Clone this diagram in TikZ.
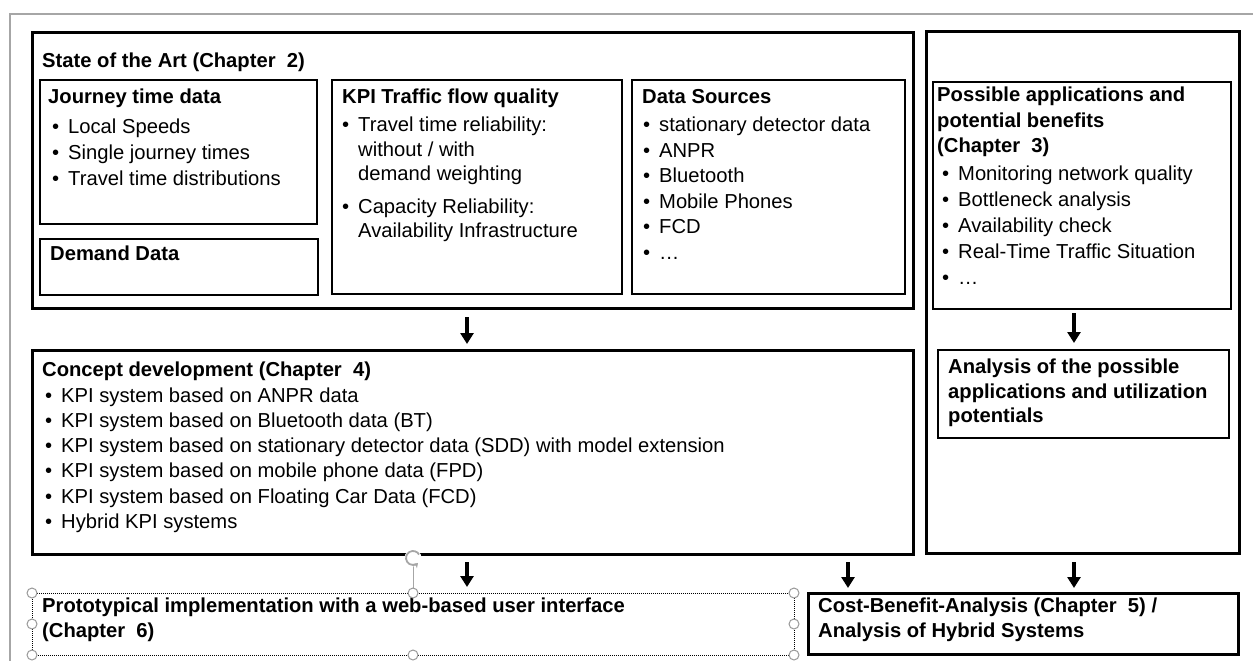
\documentclass[tikz,border=0pt]{standalone}
\usepackage{fontspec}
\setmainfont{Liberation Sans}
\usetikzlibrary{arrows.meta}
\newcommand\bu{\makebox[16pt][l]{\textbullet}}
\begin{document}
\begin{tikzpicture}[x=1pt,y=-1pt,
  thickbox/.style={draw, line width=3pt, anchor=north west, inner sep=0, outer sep=0},
  thinbox/.style={draw, line width=1.5pt, anchor=north west, inner sep=0, outer sep=0},
  dotbox/.style={draw, line width=1pt, densely dotted, anchor=north west, inner sep=0, outer sep=0},
  txt/.style={anchor=base west, inner sep=0, font=\fontsize{20.2}{24}\selectfont},
  hd/.style={txt, font=\fontsize{20.2}{24}\selectfont\bfseries},
  arr/.style={line width=3.2pt, -{Triangle[width=13pt,length=11pt]}},
  handle/.style={circle, draw=gray!80, fill=white, line width=1pt, minimum size=10pt, inner sep=0},
]
\useasboundingbox (0,0) rectangle (1253,661);
% page frame
\draw[gray!70, line width=1.2pt] (10,661) -- (10,14) -- (1253,14);

% main boxes
\node[thickbox, minimum width=881pt, minimum height=275pt] (soa) at (32,33) {};
\node[thinbox, minimum width=277pt, minimum height=144pt] (journey) at (40,80) {};
\node[thinbox, minimum width=278pt, minimum height=56pt] (demand) at (40,239) {};
\node[thinbox, minimum width=290pt, minimum height=214pt] (kpi) at (332,80) {};
\node[thinbox, minimum width=273pt, minimum height=214pt] (sources) at (632,80) {};
\node[thickbox, minimum width=313pt, minimum height=521pt] (rcol) at (926,32) {};
\node[thinbox, minimum width=298pt, minimum height=227pt] (apps) at (933,82) {};
\node[thinbox, minimum width=291pt, minimum height=88pt] (analysis) at (938,350) {};
\node[thickbox, minimum width=881pt, minimum height=204pt] (concept) at (32,350) {};
\node[dotbox, minimum width=762pt, minimum height=62pt] (proto) at (32,593) {};
\node[thickbox, minimum width=430pt, minimum height=61pt] (cba) at (808,593) {};

% State of the art
\node[hd] (soaT) at (42,68) {State of the Art (Chapter~ 2)};
\node[hd] (jT) at (48,103) {Journey time data};
\node[txt] (j1) at (52,133) {\bu Local Speeds};
\node[txt] (j2) at (52,159) {\bu Single journey times};
\node[txt] (j3) at (52,185) {\bu Travel time distributions};
\node[hd] (dT) at (50,260) {Demand Data};
\node[hd] (kT) at (342,103) {KPI Traffic flow quality};
\node[txt] (k1) at (342,131) {\bu Travel time reliability:};
\node[txt] (k2) at (358,156) {without / with};
\node[txt] (k3) at (358,180) {demand weighting};
\node[txt] (k4) at (342,213) {\bu Capacity Reliability:};
\node[txt] (k5) at (358,237) {Availability Infrastructure};
\node[hd] (sT) at (642,103) {Data Sources};
\node[txt] (s1) at (643,131) {\bu stationary detector data};
\node[txt] (s2) at (643,157) {\bu ANPR};
\node[txt] (s3) at (643,182) {\bu Bluetooth};
\node[txt] (s4) at (643,208) {\bu Mobile Phones};
\node[txt] (s5) at (643,233) {\bu FCD};
\node[txt] (s6) at (643,259) {\bu \dots};

% applications column
\node[hd] (aT1) at (937,102) {Possible applications and};
\node[hd] (aT2) at (937,127) {potential benefits};
\node[hd] (aT3) at (937,152) {(Chapter~ 3)};
\node[txt] (a1) at (942,180) {\bu Monitoring network quality};
\node[txt] (a2) at (942,206) {\bu Bottleneck analysis};
\node[txt] (a3) at (942,232) {\bu Availability check};
\node[txt] (a4) at (942,258) {\bu Real-Time Traffic Situation};
\node[txt] (a5) at (942,284) {\bu \dots};
\node[hd] (nT1) at (948,373) {Analysis of the possible};
\node[hd] (nT2) at (948,398) {applications and utilization};
\node[hd] (nT3) at (948,422) {potentials};

% concept development
\node[hd] (cT) at (42,376) {Concept development (Chapter~ 4)};
\node[txt] (c1) at (45,402) {\bu KPI system based on ANPR data};
\node[txt] (c2) at (45,427) {\bu KPI system based on Bluetooth data (BT)};
\node[txt] (c3) at (45,452) {\bu KPI system based on stationary detector data (SDD) with model extension};
\node[txt] (c4) at (45,477) {\bu KPI system based on mobile phone data (FPD)};
\node[txt] (c5) at (45,503) {\bu KPI system based on Floating Car Data (FCD)};
\node[txt] (c6) at (45,528) {\bu Hybrid KPI systems};

% bottom row
\node[hd] (pT1) at (42,612) {Prototypical implementation with a web-based user interface};
\node[hd] (pT2) at (42,637) {(Chapter~ 6)};
\node[hd] (bT1) at (818,612) {Cost-Benefit-Analysis (Chapter~ 5) /};
\node[hd] (bT2) at (818,637) {Analysis of Hybrid Systems};

% selection handles on the prototype box, with the rotation handle above
\draw[gray!70, line width=1pt] (proto.north) -- (413,566);
\fill[white] (413,558) circle[radius=8.5];
\draw[gray!70, line width=1.8pt, -{Stealth[length=4.5pt,width=6pt]}]
  (419.1,554.5) arc[start angle=-30, end angle=-315, radius=7];
\foreach \a/\n in {north west/1, north/2, north east/3, west/4, east/5, south west/6, south/7, south east/8}
  \node[handle] (h\n) at (proto.\a) {};

% flow arrows
\coordinate (xa) at (467,0);
\coordinate (xb) at (848,0);
\coordinate (xc) at (1074,0);
\draw[arr, shorten <=9pt, shorten >=6pt] (soa.south -| xa) -- (concept.north -| xa);
\draw[arr, shorten <=4pt, shorten >=7pt] (apps.south -| xc) -- (analysis.north -| xc);
\draw[arr, shorten <=8pt, shorten >=6pt] (concept.south -| xa) -- (proto.north -| xa);
\draw[arr, shorten <=8pt, shorten >=5pt] (concept.south -| xb) -- (cba.north -| xb);
\draw[arr, shorten <=9pt, shorten >=5pt] (rcol.south -| xc) -- (cba.north -| xc);
\end{tikzpicture}
\end{document}
